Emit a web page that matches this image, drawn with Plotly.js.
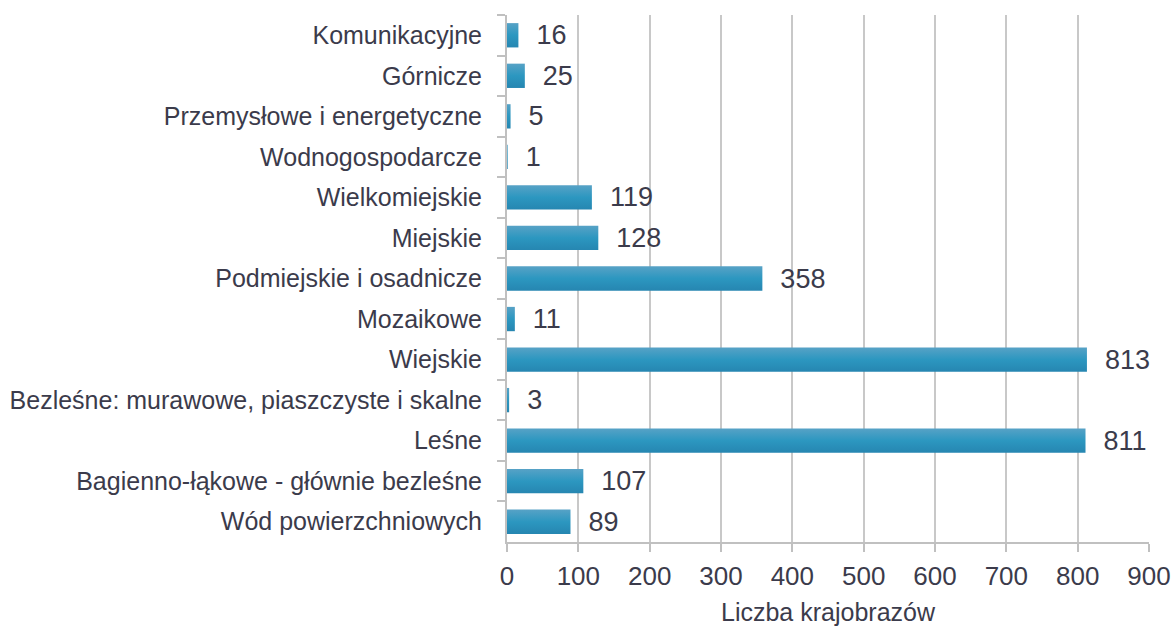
<!DOCTYPE html>
<html>
<head>
<meta charset="utf-8">
<script src="https://cdn.plot.ly/plotly-3.0.1.min.js"></script>
<style>html,body{margin:0;padding:0;background:#fff}#chart{width:1176px;height:626px}</style>
</head>
<body>
<div id="chart"></div>
<script>
const categories = [
  "Komunikacyjne",
  "Górnicze",
  "Przemysłowe i energetyczne",
  "Wodnogospodarcze",
  "Wielkomiejskie",
  "Miejskie",
  "Podmiejskie i osadnicze",
  "Mozaikowe",
  "Wiejskie",
  "Bezleśne: murawowe, piaszczyste i skalne",
  "Leśne",
  "Bagienno-łąkowe - głównie bezleśne",
  "Wód powierzchniowych"
];
const values = [16, 25, 5, 1, 119, 128, 358, 11, 813, 3, 811, 107, 89];
const xTicks = [0, 100, 200, 300, 400, 500, 600, 700, 800, 900];
const xTitle = "Liczba krajobrazów";

const fontFam = "'Liberation Sans', 'Noto Sans', Arial, sans-serif";
const txtColor = "#3b3b4b";

const trace = {
  type: "bar",
  orientation: "h",
  y: categories,
  x: values,
  text: values.map(v => "  " + v),
  textposition: "outside",
  constraintext: "none",
  cliponaxis: false,
  textfont: {family: fontFam, size: 27, color: txtColor},
  marker: {color: "#2b92bd", line: {width: 0}},
  hoverinfo: "none"
};

const layout = {
  width: 1176,
  height: 626,
  margin: {l: 507, r: 27, t: 15, b: 84},
  paper_bgcolor: "#ffffff",
  plot_bgcolor: "#ffffff",
  bargap: 0.4,
  showlegend: false,
  font: {family: fontFam, color: txtColor},
  xaxis: {
    range: [0, 900],
    tickvals: xTicks,
    ticktext: xTicks.map(String),
    showgrid: true,
    gridcolor: "#c8c8c8",
    gridwidth: 2,
    zeroline: false,
    showline: true,
    linecolor: "#c0c0c0",
    linewidth: 2,
    ticks: "outside",
    ticklen: 8,
    tickwidth: 2,
    tickcolor: "#c0c0c0",
    ticklabelstandoff: 2,
    tickfont: {family: fontFam, size: 26, color: txtColor},
    title: {text: xTitle, font: {family: fontFam, size: 25, color: txtColor}, standoff: 14},
    fixedrange: true
  },
  yaxis: {
    type: "category",
    autorange: "reversed",
    showgrid: false,
    zeroline: false,
    showline: true,
    linecolor: "#c0c0c0",
    linewidth: 2,
    ticks: "outside",
    tickson: "boundaries",
    ticklen: 8,
    tickwidth: 2,
    tickcolor: "#c0c0c0",
    ticklabelstandoff: 18,
    tickfont: {family: fontFam, size: 25, color: txtColor},
    fixedrange: true
  }
};

Plotly.newPlot("chart", [trace], layout, {displayModeBar: false, staticPlot: true}).then(function (gd) {
  const svg = gd.querySelector("svg.main-svg");
  const ns = "http://www.w3.org/2000/svg";
  let defs = svg.querySelector("defs");
  if (!defs) { defs = document.createElementNS(ns, "defs"); svg.insertBefore(defs, svg.firstChild); }
  const grad = document.createElementNS(ns, "linearGradient");
  grad.setAttribute("id", "barGrad");
  grad.setAttribute("x1", "0"); grad.setAttribute("y1", "0");
  grad.setAttribute("x2", "0"); grad.setAttribute("y2", "1");
  [["0", "#57a2c6"], ["0.5", "#2c97c0"], ["1", "#2686b1"]].forEach(function (s) {
    const st = document.createElementNS(ns, "stop");
    st.setAttribute("offset", s[0]);
    st.setAttribute("stop-color", s[1]);
    grad.appendChild(st);
  });
  defs.appendChild(grad);
  gd.querySelectorAll(".trace.bars .point path").forEach(function (p) {
    p.style.fill = "url(#barGrad)";
  });
});
</script>
</body>
</html>
